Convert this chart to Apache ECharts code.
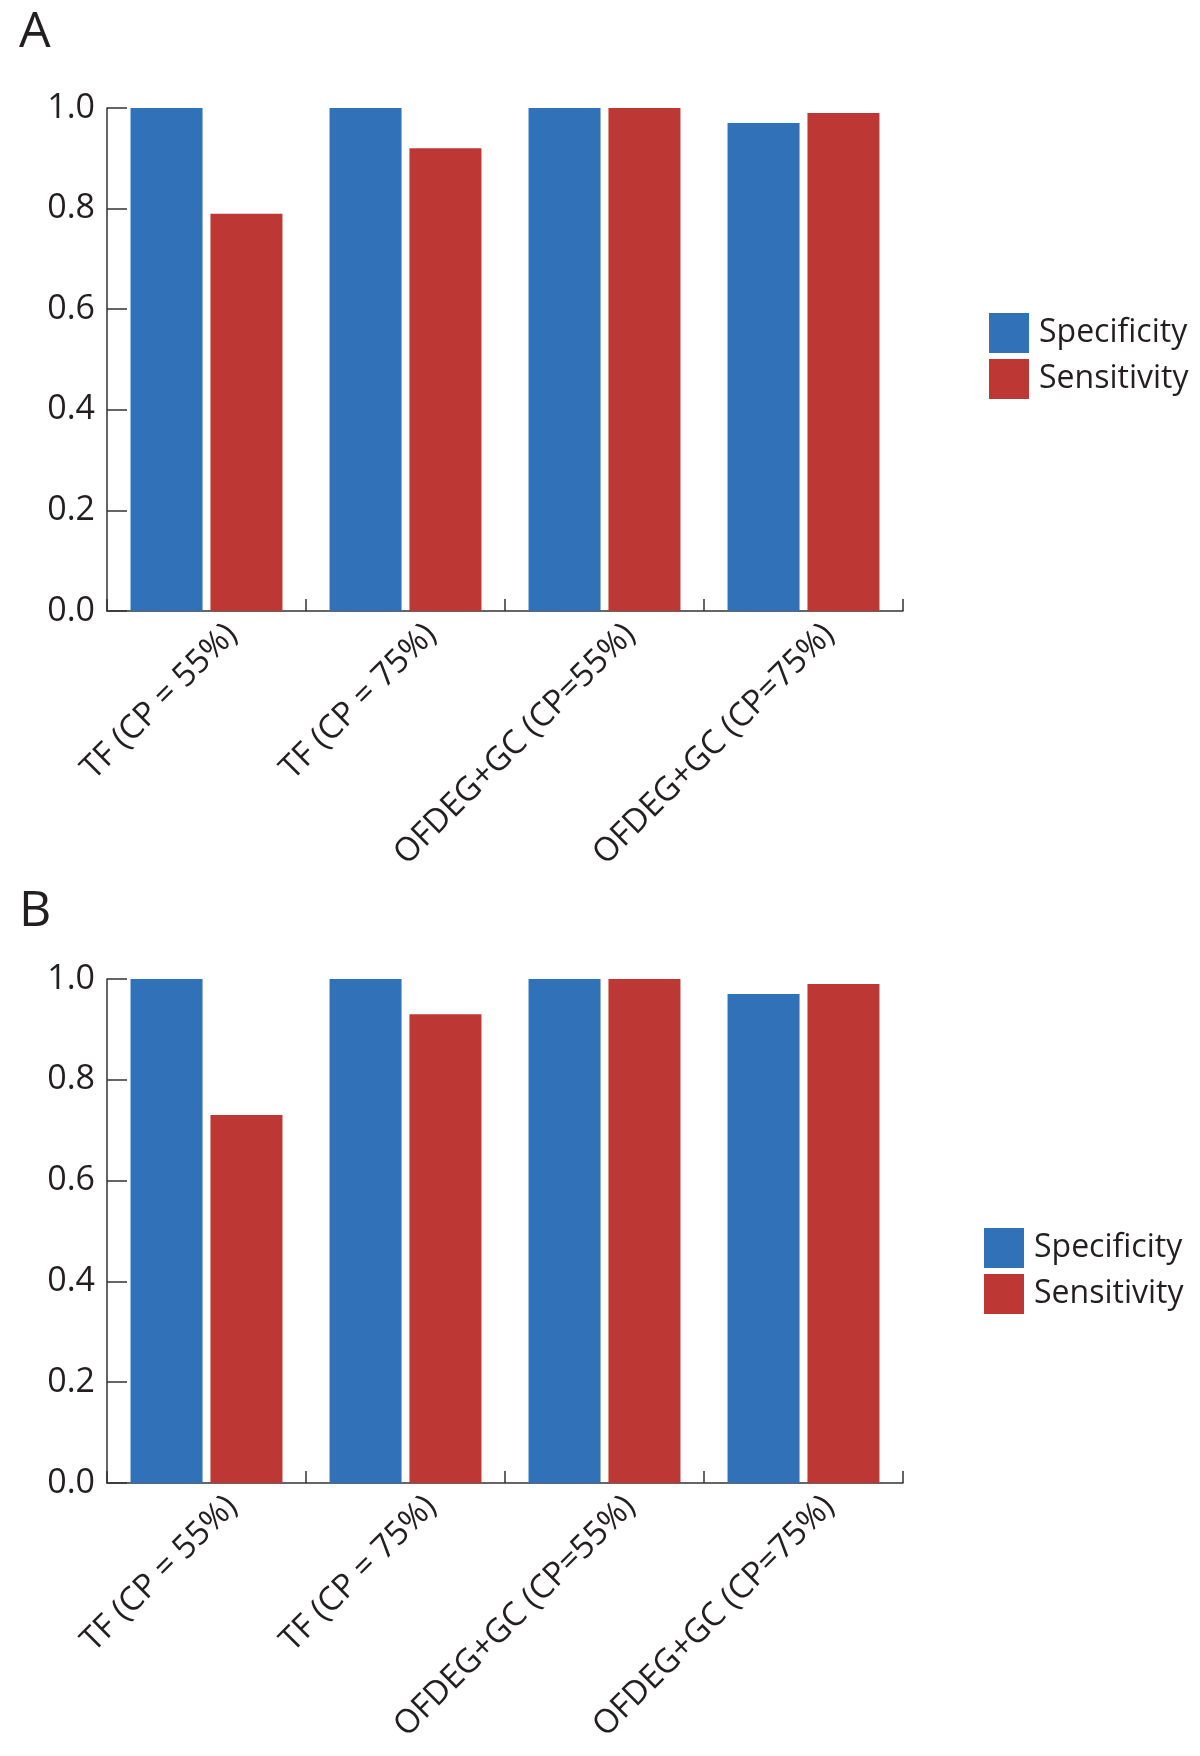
<!DOCTYPE html>
<html>
<head>
<meta charset="utf-8">
<script src="https://cdn.jsdelivr.net/npm/echarts@6/dist/echarts.min.js"></script>
<style>
  html, body { margin: 0; padding: 0; background: #fff; }
  #chart { width: 1200px; height: 1756px; }
</style>
</head>
<body>
<div id="chart"></div>
<script>
// ---- Data ----
const categories = ['TF (CP = 55%)', 'TF (CP = 75%)', 'OFDEG+GC (CP=55%)', 'OFDEG+GC (CP=75%)'];
const seriesNames = ['Specificity', 'Sensitivity'];
const specificityA = [1.00, 1.00, 1.00, 0.97];
const sensitivityA = [0.79, 0.92, 1.00, 0.99];
const specificityB = [1.00, 1.00, 1.00, 0.97];
const sensitivityB = [0.73, 0.93, 1.00, 0.99];
const yTicks = [0, 0.2, 0.4, 0.6, 0.8, 1.0];
const panelLabels = ['A', 'B'];

// ---- Style ----
const FONT = 'Open Sans';
const TXT = '#231f20';
const AXIS = '#333333';
const BLUE = '#3171b8';
const RED = '#bd3734';

const chart = echarts.init(document.getElementById('chart'), null, { renderer: 'canvas' });

function xAxisFor(idx) {
  return {
    type: 'category', gridIndex: idx, data: categories,
    axisLine: { show: true, lineStyle: { color: AXIS, width: 1.5 } },
    axisTick: { show: true, inside: true, length: 12, lineStyle: { color: AXIS, width: 1.5 } },
    axisLabel: {
      interval: 0, rotate: 45, fontSize: 33, fontFamily: FONT, color: TXT,
      margin: -7, lineHeight: 72, verticalAlign: 'middle',
      formatter: v => '\n' + v
    },
    splitLine: { show: false }
  };
}
function yAxisFor(idx) {
  return {
    type: 'value', gridIndex: idx,
    min: yTicks[0], max: yTicks[yTicks.length - 1], interval: yTicks[1] - yTicks[0],
    axisLine: { show: true, lineStyle: { color: AXIS, width: 1.5 } },
    axisTick: { show: true, inside: true, length: 20, lineStyle: { color: AXIS, width: 1.5 } },
    axisLabel: { fontSize: 34, fontFamily: FONT, color: TXT, margin: 12,
      formatter: v => v.toFixed(1) },
    splitLine: { show: false }
  };
}
function barSeries(name, data, idx, color) {
  return {
    type: 'bar', name: name, data: data,
    xAxisIndex: idx, yAxisIndex: idx,
    barWidth: 72, barGap: '11%',
    itemStyle: { color: color },
    emphasis: { disabled: true },
    animation: false
  };
}
function legendFor(left, top) {
  return {
    data: seriesNames, orient: 'vertical', left: left, top: top,
    icon: 'rect', itemWidth: 40, itemHeight: 40, itemGap: 6,
    selectedMode: false,
    textStyle: { fontSize: 32, fontFamily: FONT, color: TXT, padding: [0, 0, 0, 5] }
  };
}

const option = {
  backgroundColor: '#ffffff',
  animation: false,
  title: [
    { text: panelLabels[0], left: 14, top: 3, textStyle: { fontSize: 50, fontWeight: 'normal', fontFamily: FONT, color: TXT } },
    { text: panelLabels[1], left: 14, top: 882, textStyle: { fontSize: 50, fontWeight: 'normal', fontFamily: FONT, color: TXT } }
  ],
  legend: [legendFor(984, 308), legendFor(979, 1223)],
  grid: [
    { left: 107, top: 108, width: 796, height: 503, outerBoundsMode: 'none' },
    { left: 107, top: 979, width: 796, height: 504, outerBoundsMode: 'none' }
  ],
  xAxis: [xAxisFor(0), xAxisFor(1)],
  yAxis: [yAxisFor(0), yAxisFor(1)],
  series: [
    barSeries(seriesNames[0], specificityA, 0, BLUE),
    barSeries(seriesNames[1], sensitivityA, 0, RED),
    barSeries(seriesNames[0], specificityB, 1, BLUE),
    barSeries(seriesNames[1], sensitivityB, 1, RED)
  ]
};
chart.setOption(option);
</script>
</body>
</html>
